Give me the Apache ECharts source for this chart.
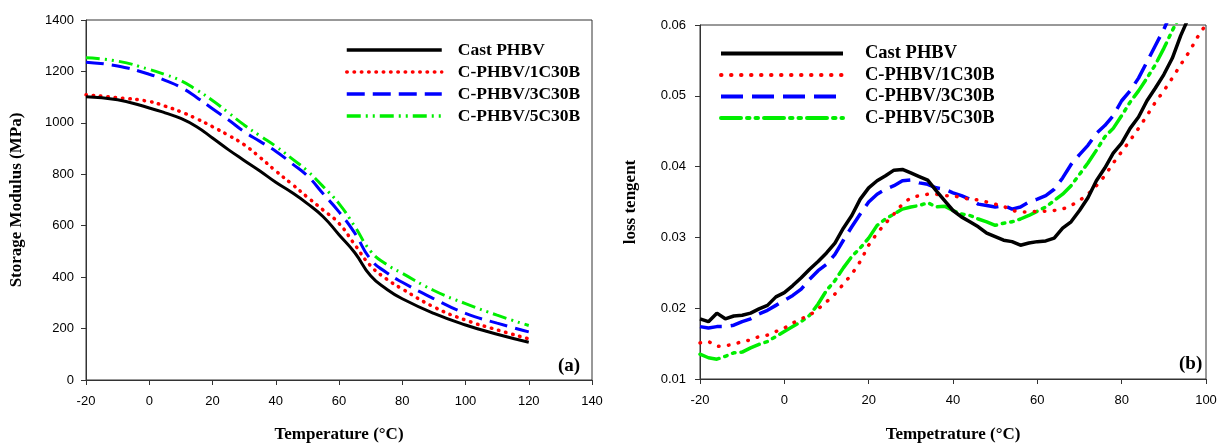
<!DOCTYPE html>
<html><head><meta charset="utf-8">
<script src="https://cdn.jsdelivr.net/npm/echarts@6/dist/echarts.min.js"></script>
<style>html,body{margin:0;padding:0;background:#fff}#a,#b{position:absolute;top:0;width:610px;height:448px}#a{left:0}#b{left:610px}</style>
</head><body><div id="a"></div><div id="b"></div>
<script>
// ---- Panel (a): storage modulus ----
const tempA = [-20,-10,0,5,10,15,20,25,30,35,40,45,50,55,60,65,70,75,80,90,100,110,120];
const castA = [1102,1090,1058,1039,1017,985,941,896,854,813,769,730,686,635,565,495,405,354,316,259,214,178,147];
const c1A   = [1109,1098,1083,1065,1043,1016,985,952,915,866,813,763,711,661,609,526,444,393,354,284,233,195,160];
const c3A   = [1236,1221,1189,1165,1138,1099,1055,1012,966,928,890,843,794,724,654,571,469,418,380,316,259,221,187];
const c5A   = [1253,1240,1208,1188,1164,1128,1087,1040,992,950,909,862,813,752,686,597,501,450,415,348,297,252,212];
const ticksXA = {min:-20, max:140, interval:20};
const ticksYA = {min:0, max:1400, interval:200};

// ---- Panel (b): loss tangent ----
const tempB = [-20,-18,-16,-14,-12,-10,-8,-6,-4,-2,0,2,4,6,8,10,12,14,16,18,20,22,24,26,28,30,32,34,36,38,40,42,44,46,48,50,52,54,56,58,60,62,64,66,68,70,72,74,76,78,80,82,84,86,88,90,92,94,96,98,100];
const castB = [0.0185,0.0181,0.0193,0.0185,0.0189,0.0190,0.0193,0.0199,0.0204,0.0216,0.0222,0.0232,0.0243,0.0255,0.0266,0.0278,0.0292,0.0313,0.0331,0.0354,0.0370,0.0380,0.0387,0.0395,0.0396,0.0391,0.0386,0.0381,0.0366,0.0352,0.0338,0.0329,0.0322,0.0315,0.0306,0.0301,0.0296,0.0294,0.0289,0.0292,0.0294,0.0295,0.0299,0.0313,0.0322,0.0338,0.0356,0.0380,0.0398,0.0419,0.0433,0.0454,0.0470,0.0493,0.0511,0.0530,0.0553,0.0585,0.0612,null,null];
const c1B   = [0.0151,0.0153,0.0146,0.0147,0.0149,0.0153,0.0155,0.0160,0.0162,0.0167,0.0172,0.0179,0.0185,0.0190,0.0199,0.0209,0.0220,0.0234,0.0248,0.0266,0.0289,0.0306,0.0320,0.0333,0.0347,0.0356,0.0359,0.0361,0.0361,0.0359,0.0359,0.0356,0.0354,0.0353,0.0350,0.0347,0.0344,0.0338,0.0336,0.0336,0.0337,0.0337,0.0338,0.0340,0.0345,0.0352,0.0361,0.0373,0.0387,0.0405,0.0421,0.0437,0.0454,0.0472,0.0491,0.0507,0.0525,0.0544,0.0562,0.0583,0.0601];
const c3B   = [0.0174,0.0172,0.0174,0.0174,0.0176,0.0181,0.0185,0.0192,0.0197,0.0204,0.0211,0.0218,0.0227,0.0241,0.0253,0.0262,0.0276,0.0296,0.0315,0.0333,0.0350,0.0361,0.0368,0.0373,0.0380,0.0381,0.0377,0.0375,0.0370,0.0368,0.0363,0.0359,0.0354,0.0347,0.0345,0.0343,0.0345,0.0340,0.0343,0.0350,0.0354,0.0359,0.0368,0.0384,0.0403,0.0417,0.0430,0.0447,0.0458,0.0472,0.0493,0.0507,0.0525,0.0548,0.0571,0.0594,0.0620,null,null,null,null];
const c5B   = [0.0135,0.0130,0.0128,0.0132,0.0137,0.0138,0.0144,0.0149,0.0153,0.0160,0.0167,0.0174,0.0181,0.0190,0.0206,0.0225,0.0239,0.0257,0.0273,0.0285,0.0299,0.0317,0.0326,0.0333,0.0340,0.0343,0.0345,0.0349,0.0343,0.0344,0.0338,0.0333,0.0331,0.0326,0.0322,0.0317,0.0320,0.0322,0.0326,0.0331,0.0337,0.0343,0.0352,0.0361,0.0373,0.0389,0.0405,0.0423,0.0442,0.0454,0.0472,0.0491,0.0507,0.0525,0.0544,0.0567,0.0592,0.0615,null,null,null];
const ticksXB = {min:-20, max:100, interval:20};
const ticksYB = {min:0.01, max:0.06, interval:0.01};

const names = ['Cast PHBV','C-PHBV/1C30B','C-PHBV/3C30B','C-PHBV/5C30B'];
const serif = '"Liberation Serif","Times New Roman",serif';
const sans = '"Liberation Sans",Arial,sans-serif';

function zip(xs, ys){ return xs.map((x,i)=>[x, ys[i]]); }

function axisCommon(fmt, margin){
  return {
    axisLine:{show:true, onZero:false, lineStyle:{color:'#333', width:1}},
    axisTick:{show:true, length:5, inside:false, lineStyle:{color:'#333'}},
    axisLabel:{color:'#000', fontFamily:sans, fontSize:13, margin:margin, formatter:fmt},
    splitLine:{show:false},
    nameLocation:'middle',
    nameTextStyle:{color:'#000', fontFamily:serif, fontWeight:'bold', fontSize:17}
  };
}

function makeSeries(xs, data, styles, smooth){
  return data.map((d,i)=>({
    name:names[i], type:'line', data:zip(xs,d), smooth:smooth, symbol:'none',
    clip:true, connectNulls:false,
    lineStyle:styles[i], itemStyle:{color:styles[i].color}, z:10-i
  }));
}

function makeOption(cfg){
  return {
    animation:false,
    backgroundColor:'#fff',
    grid:cfg.grid,
    title:{text:cfg.panel, left:cfg.panelPos[0], top:cfg.panelPos[1],
      textStyle:{fontFamily:serif, fontWeight:'bold', fontSize:19, color:'#000'}},
    legend:{
      data:names.map((n,i)=>({name:n, lineStyle:Object.assign({}, cfg.styles[i], {width:cfg.legendLineW})})),
      orient:'vertical', left:cfg.legendPos[0], top:cfg.legendPos[1],
      itemWidth:cfg.legendW, itemHeight:14, itemGap:cfg.legendGap,
      itemStyle:{opacity:0},
      textStyle:{fontFamily:serif, fontWeight:'bold', fontSize:cfg.legendFont, color:'#000', padding:[0,0,0,cfg.legendPad]},
      selectedMode:false
    },
    xAxis:Object.assign(axisCommon(cfg.xFmt, cfg.xMargin), {type:'value', name:cfg.xName, nameGap:cfg.xGap}, cfg.xTicks),
    yAxis:Object.assign(axisCommon(cfg.yFmt, cfg.yMargin), {type:'value', name:cfg.yName, nameGap:cfg.yGap}, cfg.yTicks),
    series:makeSeries(cfg.xs, cfg.data, cfg.styles, cfg.smooth)
  };
}

const stylesA = [
  {color:'#000000', width:3, type:'solid'},
  {color:'#ff0000', width:3.5, type:[0.5,6.8], cap:'round'},
  {color:'#0000ff', width:3, type:[18,8]},
  {color:'#00ee00', width:3, type:[14,5,2,5,2,5]}
];
const stylesB = [
  {color:'#000000', width:3.5, type:'solid'},
  {color:'#ff0000', width:3.5, type:[0.5,9.5], cap:'round'},
  {color:'#0000ff', width:3.5, type:[22,9]},
  {color:'#00ee00', width:3.5, type:[20,6,2.5,6,2.5,6], cap:'round'}
];

const plain = function(v){ return String(v); };

const chartA = echarts.init(document.getElementById('a'), null, {renderer:'canvas'});
chartA.setOption(makeOption({
  grid:{left:84, top:20, width:508, height:366, show:true, borderColor:'#333', borderWidth:1},
  panel:'(a)', panelPos:[553, 352],
  legendPos:[340, 36], legendW:95, legendGap:4, legendFont:17.5, legendPad:11, legendLineW:3.5,
  xName:'Temperature (°C)', xGap:46, xTicks:ticksXA, xFmt:plain, xMargin:15,
  yName:'Storage Modulus (MPa)', yGap:61, yTicks:ticksYA, yFmt:plain, yMargin:12,
  xs:tempA, data:[castA,c1A,c3A,c5A], styles:stylesA, smooth:true
}));

const chartB = echarts.init(document.getElementById('b'), null, {renderer:'canvas'});
chartB.setOption(makeOption({
  grid:{left:90, top:25, width:506, height:362, show:true, borderColor:'#333', borderWidth:1},
  panel:'(b)', panelPos:[564, 350],
  legendPos:[104, 39], legendW:122, legendGap:2.5, legendFont:18.5, legendPad:17, legendLineW:4,
  xName:'Tempetrature (°C)', xGap:47, xTicks:ticksXB, xFmt:plain, xMargin:15,
  yName:'loss tengent', yGap:61, yTicks:ticksYB, yMargin:14,
  yFmt:function(v){return v.toFixed(2);},
  xs:tempB, data:[castB,c1B,c3B,c5B], styles:stylesB, smooth:false
}));
</script></body></html>
